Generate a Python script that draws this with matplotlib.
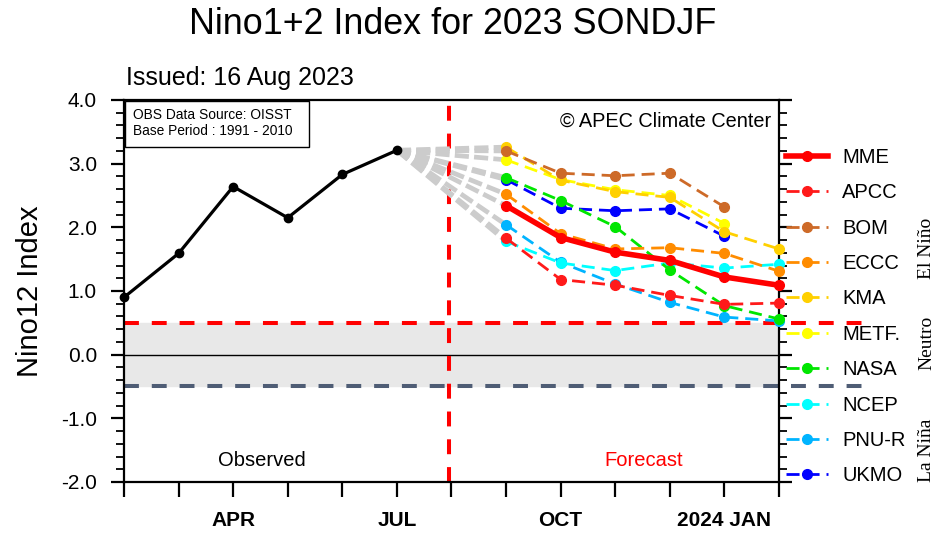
import matplotlib.pyplot as plt
from matplotlib.lines import Line2D
from matplotlib.patches import Rectangle
from matplotlib.ticker import MultipleLocator

plt.rcParams['font.family'] = ['Liberation Sans', 'DejaVu Sans']

# months counted from Feb 2023 (0) to Feb 2024 (12)
obs_months = [0, 1, 2, 3, 4, 5]
obs_values = [0.90, 1.59, 2.64, 2.15, 2.83, 3.21]

fc_months = [7, 8, 9, 10, 11, 12]  # SONDJF

models = ['MME', 'APCC', 'BOM', 'ECCC', 'KMA', 'METF.', 'NASA', 'NCEP', 'PNU-R', 'UKMO']
colors = ['#ff0000', '#ff1a1a', '#cd6a28', '#ff8c00', '#ffd000',
          '#ffff00', '#00e600', '#00ffff', '#00b4ff', '#0000ff']
fc_values = [
    [2.34, 1.84, 1.61, 1.48, 1.22, 1.09],   # MME
    [1.83, 1.18, 1.09, 0.93, 0.79, 0.81],   # APCC
    [3.20, 2.85, 2.81, 2.85, 2.32],         # BOM
    [2.52, 1.90, 1.66, 1.68, 1.59, 1.31],   # ECCC
    [3.26, 2.74, 2.56, 2.47, 1.93, 1.66],   # KMA
    [3.06, 2.75, 2.59, 2.50, 2.06],         # METF
    [2.78, 2.42, 2.01, 1.33, 0.77, 0.56],   # NASA
    [1.78, 1.44, 1.32, 1.44, 1.36, 1.42],   # NCEP
    [2.04, 1.45, 1.11, 0.82, 0.59, 0.53],   # PNU-R
    [2.75, 2.30, 2.26, 2.29, 1.86],         # UKMO
]

tick_pos = [2, 5, 8, 11]
tick_labels = ['APR', 'JUL', 'OCT', '2024 JAN']

fig = plt.figure(figsize=(9.4, 5.35), dpi=100)
ax = fig.add_axes([0.1319, 0.0991, 0.6968, 0.714])

# neutral band and thresholds
ax.axhspan(-0.5, 0.5, color='#e8e8e8', zorder=0)
ax.axhline(0, color='black', lw=1.0, zorder=1)
ax.axhline(0.5, xmin=0, xmax=1.131, color='#ff0000', lw=2.9,
           dashes=(3.7, 3.2), clip_on=False, zorder=2)
ax.axhline(-0.5, xmin=0, xmax=1.131, color='#4f5d75', lw=2.9,
           dashes=(3.7, 3.2), clip_on=False, zorder=2)
ax.axvline(5.95, color='#ff0000', lw=2.9, dashes=(3.7, 3.2), zorder=2)

# grey connectors from last observation to each first forecast month
for vals in fc_values:
    ax.plot([obs_months[-1], fc_months[0]], [obs_values[-1], vals[0]],
            color='#cccccc', lw=3.4, dashes=(3, 1.1), zorder=3)

ax.plot(obs_months, obs_values, color='black', lw=2.3, marker='o',
        ms=6, zorder=6, clip_on=False)

handles = []
for i, (name, col, vals) in enumerate(zip(models, colors, fc_values)):
    if name == 'MME':
        style = dict(lw=4.0, ls='-', ms=7)
        z = 20
    else:
        style = dict(lw=2.0, dashes=(4.7, 2.5), ms=7)
        z = 10 - i * 0.1
    ax.plot(fc_months[:len(vals)], vals, color=col, marker='o',
            clip_on=False, zorder=z, **style)
    handles.append(Line2D([], [], color=col, marker='o', **style))

ax.set_xlim(0, 12)
ax.set_ylim(-2, 4)
ax.set_xticks(range(13))
ax.set_xticklabels(['' if m not in tick_pos else tick_labels[tick_pos.index(m)] for m in range(13)],
                   fontsize=15, fontweight='bold')
ax.yaxis.set_minor_locator(MultipleLocator(0.2))
ax.set_yticks([-2, -1, 0, 1, 2, 3, 4])
ax.set_yticklabels([f'{v:.1f}' for v in [-2, -1, 0, 1, 2, 3, 4]], fontsize=15)
ax.tick_params(axis='x', direction='out', length=11, width=1.6, pad=10)
ax.tick_params(axis='y', which='major', direction='out', length=9.5, width=1.6,
               right=True, pad=10)
ax.tick_params(axis='y', which='minor', direction='out', length=5.5, width=1.3, right=True)
for s in ax.spines.values():
    s.set_linewidth(1.6)

ax.set_ylabel('Nino12 Index', fontsize=21, labelpad=12)

ax.text(0.21, 0.055, 'Observed', transform=ax.transAxes, fontsize=14.5,
        ha='center', va='center')
ax.text(0.793, 0.055, 'Forecast', transform=ax.transAxes, fontsize=14.5,
        ha='center', va='center', color='#ff0000')
ax.text(0.988, 0.945, '\u00a9 APEC Climate Center', transform=ax.transAxes,
        fontsize=14.3, ha='right', va='center')

# data source box in the upper left corner
ax.add_patch(Rectangle((0.002, 0.877), 0.28, 0.121, transform=ax.transAxes,
                       fc='white', ec='black', lw=1.0, zorder=25))
ax.text(0.014, 0.94, 'OBS Data Source: OISST\nBase Period : 1991 - 2010',
        transform=ax.transAxes, fontsize=9.9, ha='left', va='center',
        linespacing=1.15, zorder=26)

fig.text(0.482, 0.955, 'Nino1+2 Index for 2023 SONDJF', fontsize=25.8,
         ha='center', va='center')
fig.text(0.134, 0.855, 'Issued: 16 Aug 2023', fontsize=18, ha='left', va='center')

for txt, y in [('El Ni\u00f1o', 0.535), ('Neutro', 0.359), ('La Ni\u00f1a', 0.159)]:
    fig.text(0.986, y, txt, rotation=90, fontsize=14, ha='center', va='center',
             family='Liberation Serif')

ax.legend(handles, models, loc='upper left', bbox_to_anchor=(0.998, 0.896),
          frameon=False, fontsize=14.5, handlelength=2.1, handletextpad=0.7,
          labelspacing=0.815, borderaxespad=0)

fig.savefig('out.png', dpi=100)
